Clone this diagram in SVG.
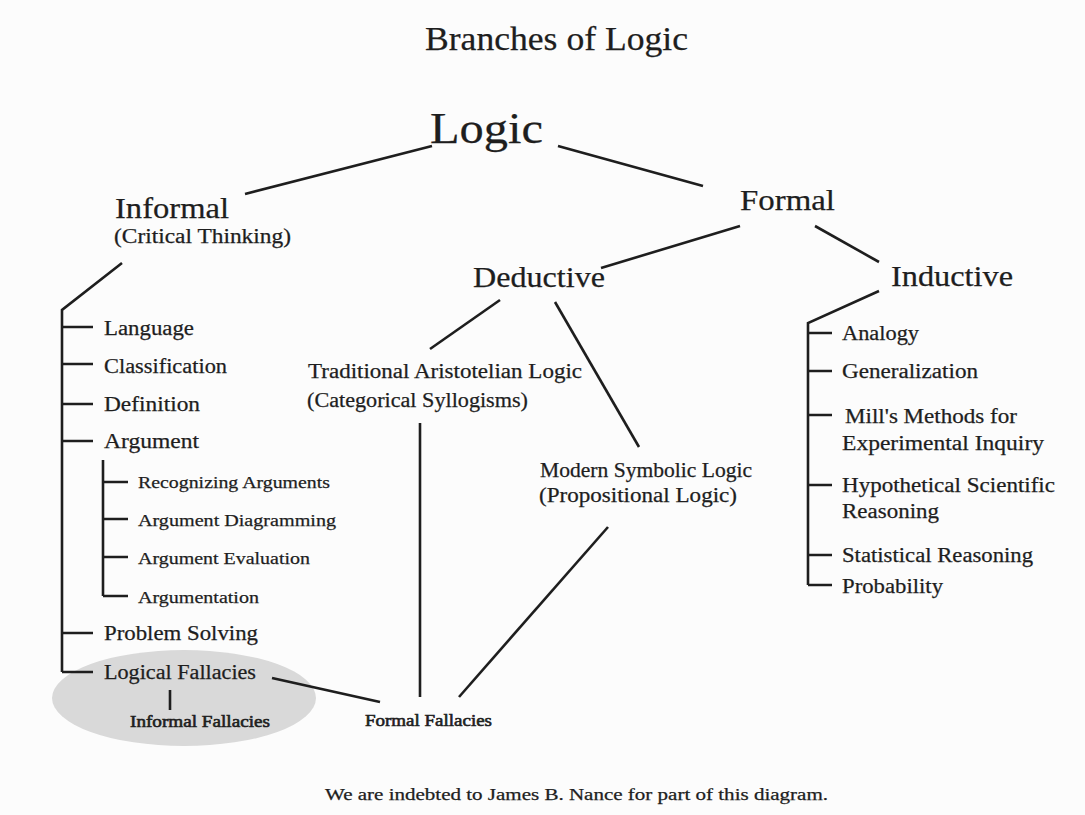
<svg xmlns="http://www.w3.org/2000/svg" width="1085" height="815" viewBox="0 0 1085 815">
<style>
text{font-family:"Liberation Serif","Times New Roman",serif;fill:#1e1e1e;stroke:#1e1e1e;stroke-width:0.25}
.ln{stroke:#1e1e1e;stroke-width:2.6;fill:none;stroke-linecap:butt}
.t1{font-size:33px}.t0{font-size:44px}.t2{font-size:30px}.t3{font-size:20px}.t4{font-size:17px}.t5{font-size:16px}
.sb{stroke-width:0.6}
</style>
<rect width="1085" height="815" fill="#fcfcfc"/>
<ellipse id="fallacy-oval" cx="184" cy="698" rx="132" ry="48" fill="#d9d9d9"/>
<g id="connectors" class="ln">
<path d="M432 146L245 194"/>
<path d="M558 146L703 186"/>
<path d="M740 226L601 268"/>
<path d="M815 226L879 262"/>
<path d="M122 263L62 310V672"/>
<path d="M62 327H93M62 364H93M62 404H93M62 441H93M62 633H93M62 672H93"/>
<path d="M103 460V596M103 482H128M103 519H128M103 557H128M103 596H128"/>
<path d="M170 690V710"/>
<path d="M272 678L380 702"/>
<path d="M500 300L430 349"/>
<path d="M555 302L639 447"/>
<path d="M420 423V697"/>
<path d="M608 527L459 697"/>
<path d="M879 291L808 323V585"/>
<path d="M808 333H832M808 371H832M808 415H832M808 485H832M808 555H832M808 585H832"/>
</g>
<g id="title"><text class="t1" x="425" y="50" textLength="263" lengthAdjust="spacingAndGlyphs">Branches of Logic</text></g>
<g id="logic"><text class="t0" x="430" y="143" textLength="113" lengthAdjust="spacingAndGlyphs">Logic</text></g>
<g id="informal"><text class="t2" x="115" y="218" textLength="114" lengthAdjust="spacingAndGlyphs">Informal</text>
<text class="t3" x="114" y="243" textLength="177" lengthAdjust="spacingAndGlyphs">(Critical Thinking)</text></g>
<g id="formal"><text class="t2" x="740" y="210" textLength="95" lengthAdjust="spacingAndGlyphs">Formal</text></g>
<g id="deductive"><text class="t2" x="473" y="287" textLength="132" lengthAdjust="spacingAndGlyphs">Deductive</text></g>
<g id="inductive"><text class="t2" x="891" y="286" textLength="122" lengthAdjust="spacingAndGlyphs">Inductive</text></g>
<g id="language"><text class="t3" x="104" y="335" textLength="90" lengthAdjust="spacingAndGlyphs">Language</text></g>
<g id="classification"><text class="t3" x="104" y="373" textLength="123" lengthAdjust="spacingAndGlyphs">Classification</text></g>
<g id="definition"><text class="t3" x="104" y="411" textLength="96" lengthAdjust="spacingAndGlyphs">Definition</text></g>
<g id="argument"><text class="t3" x="104" y="448" textLength="95" lengthAdjust="spacingAndGlyphs">Argument</text></g>
<g id="recognizing"><text class="t4" x="138" y="488" textLength="192" lengthAdjust="spacingAndGlyphs">Recognizing Arguments</text></g>
<g id="diagramming"><text class="t4" x="138" y="526" textLength="198" lengthAdjust="spacingAndGlyphs">Argument Diagramming</text></g>
<g id="evaluation"><text class="t4" x="138" y="564" textLength="172" lengthAdjust="spacingAndGlyphs">Argument Evaluation</text></g>
<g id="argumentation"><text class="t4" x="138" y="603" textLength="121" lengthAdjust="spacingAndGlyphs">Argumentation</text></g>
<g id="problem-solving"><text class="t3" x="104" y="640" textLength="154" lengthAdjust="spacingAndGlyphs">Problem Solving</text></g>
<g id="logical-fallacies"><text class="t3" x="104" y="679" textLength="152" lengthAdjust="spacingAndGlyphs">Logical Fallacies</text></g>
<g id="informal-fallacies"><text class="t4 sb" x="130" y="727" textLength="140" lengthAdjust="spacingAndGlyphs">Informal Fallacies</text></g>
<g id="formal-fallacies"><text class="t4 sb" x="365" y="726" textLength="127" lengthAdjust="spacingAndGlyphs">Formal Fallacies</text></g>
<g id="traditional"><text class="t3" x="308" y="378" textLength="274" lengthAdjust="spacingAndGlyphs">Traditional Aristotelian Logic</text>
<text class="t3" x="307" y="407" textLength="221" lengthAdjust="spacingAndGlyphs">(Categorical Syllogisms)</text></g>
<g id="modern"><text class="t3" x="540" y="477" textLength="212" lengthAdjust="spacingAndGlyphs">Modern Symbolic Logic</text>
<text class="t3" x="539" y="502" textLength="198" lengthAdjust="spacingAndGlyphs">(Propositional Logic)</text></g>
<g id="analogy"><text class="t3" x="842" y="340" textLength="77" lengthAdjust="spacingAndGlyphs">Analogy</text></g>
<g id="generalization"><text class="t3" x="842" y="378" textLength="136" lengthAdjust="spacingAndGlyphs">Generalization</text></g>
<g id="mills"><text class="t3" x="845" y="423" textLength="172" lengthAdjust="spacingAndGlyphs">Mill's Methods for</text>
<text class="t3" x="842" y="450" textLength="202" lengthAdjust="spacingAndGlyphs">Experimental Inquiry</text></g>
<g id="hypothetical"><text class="t3" x="842" y="492" textLength="213" lengthAdjust="spacingAndGlyphs">Hypothetical Scientific</text>
<text class="t3" x="842" y="518" textLength="97" lengthAdjust="spacingAndGlyphs">Reasoning</text></g>
<g id="statistical"><text class="t3" x="842" y="562" textLength="191" lengthAdjust="spacingAndGlyphs">Statistical Reasoning</text></g>
<g id="probability"><text class="t3" x="842" y="593" textLength="101" lengthAdjust="spacingAndGlyphs">Probability</text></g>
<g id="footer"><text class="t5" x="325" y="800" textLength="503" lengthAdjust="spacingAndGlyphs">We are indebted to James B. Nance for part of this diagram.</text></g>
</svg>
